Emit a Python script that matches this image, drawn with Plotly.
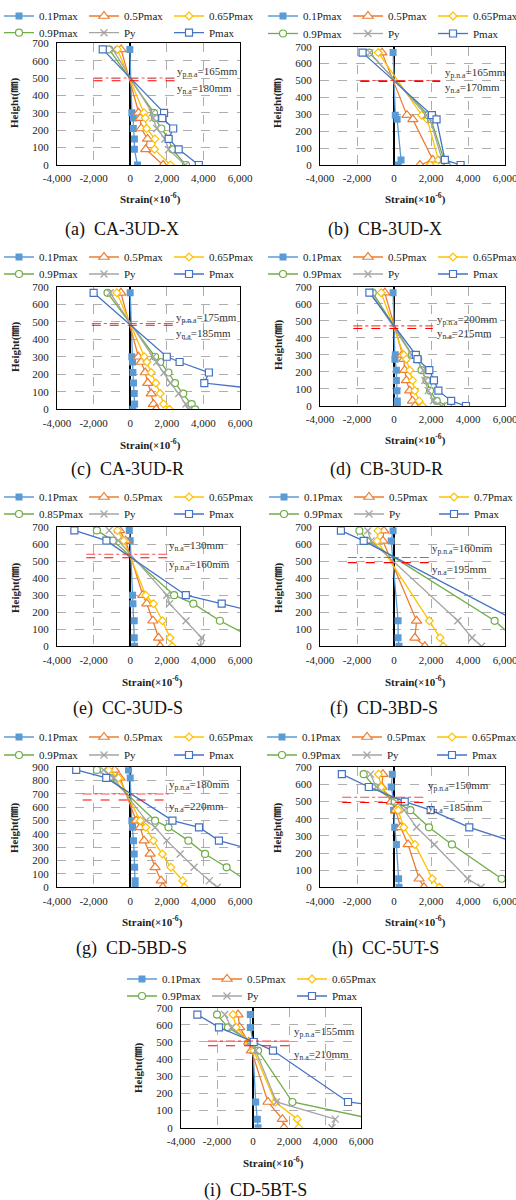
import plotly.graph_objects as go

W, H = 516, 1200
SERIF = "Liberation Serif, Noto Sans CJK SC, serif"

# ---------------- data ----------------
names_std = ["0.1Pmax", "0.5Pmax", "0.65Pmax", "0.9Pmax", "Py", "Pmax"]
names_e = ["0.1Pmax", "0.5Pmax", "0.65Pmax", "0.85Pmax", "Py", "Pmax"]
names_f = ["0.1Pmax", "0.5Pmax", "0.7Pmax", "0.9Pmax", "Py", "Pmax"]

x_tick_vals = [-4000, -2000, 0, 2000, 4000, 6000]
x_tick_text = ["-4,000", "-2,000", "0", "2,000", "4,000", "6,000"]

# (a) CA-3UD-X
a_height = [665, 300, 270, 210, 150, 90, 0]
a_p01 = [-20, 90, 170, 170, 230, 230, 400]
a_p05 = [-500, 450, 550, 600, 950, 850, 1800]
a_p065 = [-700, 750, 820, 900, 1350, 1330, 2200]
a_p09 = [-1150, 1300, 1350, 1700, 2100, 2300, 3050]
a_py = [-950, 1200, 1250, 1450, 1900, 2100, 3000]
a_pmax = [-1500, 1850, 1750, 2350, 2100, 2650, 3750]
a_na = [500, 485]
a_na_x = [-2000, 2450]
a_labels = ["y<sub>p.n.a</sub>=165mm", "y<sub>n.a</sub>=180mm"]

# (b) CB-3UD-X
b_height = [665, 295, 270, 30, 0]
b_p01 = [-50, 70, 170, 380, 230]
b_p05 = [-650, 700, 1020, 2100, 1400]
b_p065 = [-850, 1500, 1800, 2400, 1950]
b_p09 = [-1350, 1850, 2000, 2700, 2850]
b_py = [-1300, 1750, 1950, 2600, 2700]
b_pmax = [-1700, 2050, 2300, 2750, 3600]
b_na = [500, 495]
b_na_x = [-1820, 2500]
b_labels = ["y<sub>p.n.a</sub>=165mm", "y<sub>n.a</sub>=170mm"]

# (c) CA-3UD-R
c_height = [665, 300, 270, 210, 150, 90, 30, 0]
c_p01 = [0, 90, 130, 150, 180, 220, 240, 150]
c_p05 = [-510, 450, 600, 820, 960, 1150, 1270, 1420]
c_p065 = [-730, 760, 910, 1150, 1400, 1640, 1820, 2150]
c_p09 = [-1240, 1360, 1640, 2090, 2450, 2900, 3360, 3550]
c_py = [-1100, 1250, 1450, 1850, 2200, 2650, 3050, 3200]
c_pmax = [-2000, 2000, 2700, 4300, 4050, 9200, None, None]
c_na = [490, 480]
c_na_x = [-2100, 2400]
c_labels = ["y<sub>p.n.a</sub>=175mm", "y<sub>n.a</sub>=185mm"]

# (d) CB-3UD-R
d_height = [665, 300, 275, 210, 150, 90, 30, 0]
d_p01 = [-50, 70, 50, 130, 130, 160, 180, 180]
d_p05 = [-500, 440, 530, 580, 670, 850, 1000, 1130]
d_p065 = [-690, 530, 670, 850, 1000, 1130, 1360, 1550]
d_p09 = [-1150, 980, 1310, 1490, 1760, 1950, 2310, 2910]
d_py = [-1240, 950, 1220, 1580, 1670, 1850, 2130, 2580]
d_pmax = [-1330, 1180, 1270, 1910, 2160, 2400, 3090, 3890]
d_na = [470, 455]
d_na_x = [-2200, 2100]
d_labels = ["y<sub>p.n.a</sub>=200mm", "y<sub>n.a</sub>=215mm"]

# (e) CC-3UD-S
e_height = [680, 620, 300, 250, 150, 50, 0]
e_p01 = [-50, 0, 130, 150, 220, 220, 240]
e_p05 = [-580, -250, 690, 910, 1240, 1550, 1640]
e_p065 = [-700, -360, 850, 1270, 1760, 2180, 2300]
e_p085 = [-1820, -950, 2400, 3450, 4900, 6700, None]
e_py = [-1150, -650, 2000, 2150, 3050, 3900, 3820]
e_pmax = [-3050, -1300, 3040, 5000, 8900, None, None]
e_na = [540, 520]
e_na_x = [-2400, 2100]
e_labels = ["y<sub>n.a</sub>=130mm", "y<sub>p.n.a</sub>=160mm"]

# (f) CD-3BD-S
f_height = [680, 620, 150, 50, 0]
f_p01 = [-50, -150, 220, 220, 270]
f_p05 = [-550, -600, 1220, 1130, 1670]
f_p07 = [-870, -910, 1910, 2490, 2670]
f_p09 = [-1870, -1420, 5440, 6500, None]
f_py = [-1420, -1240, 3450, 4220, 4730]
f_pmax = [-2870, -1640, 6600, None, None]
f_na = [522, 492]
f_na_x = [-2500, 1970]
f_labels = ["y<sub>p.n.a</sub>=160mm", "y<sub>n.a</sub>=195mm"]

# (g) CD-5BD-S
g_height = [880, 820, 500, 450, 350, 250, 150, 50, 0]
g_p01 = [-90, 0, 90, 130, 180, 220, 240, 270, 270]
g_p05 = [-850, -550, 330, 550, 760, 1090, 1360, 1690, 1780]
g_p065 = [-1180, -640, 550, 850, 1270, 1760, 2220, 2870, 2960]
g_p09 = [-1820, -1090, 1360, 2090, 3180, 4090, 5270, 6350, None]
g_py = [-1450, -910, 870, 1360, 2000, 2730, 3490, 4330, 4760]
g_pmax = [-2950, -1310, 2310, 3760, 4850, 7500, None, None, None]
g_na = [700, 655]
g_na_x = [-2600, 2100]
g_labels = ["y<sub>p.n.a</sub>=180mm", "y<sub>n.a</sub>=220mm"]

# (h) CC-5UT-S
h_height = [660, 585, 500, 450, 350, 250, 50, 0]
h_p01 = [-90, -150, 0, -20, 40, 130, 250, 270]
h_p05 = [-600, -650, -150, 90, 360, 760, 1360, 1620]
h_p065 = [-840, -690, 40, 220, 530, 1130, 2070, 2450]
h_p09 = [-1640, -1050, 40, 890, 1890, 3130, 5820, None]
h_py = [-1270, -960, 130, 550, 1220, 2180, 3980, 4710]
h_pmax = [-2820, -1360, 580, 1980, 4070, 6900, None, None]
h_na = [525, 495]
h_na_x = [-2800, 1650]
h_labels = ["y<sub>p.n.a</sub>=150mm", "y<sub>n.a</sub>=185mm"]

# (i) CD-5BT-S
i_height = [660, 585, 500, 450, 150, 50, 0]
i_p01 = [-150, -150, 0, 0, 150, 240, 280]
i_p05 = [-830, -740, -240, -90, 830, 1630, 1720]
i_p065 = [-1110, -930, -190, 40, 1240, 2460, 2540]
i_p09 = [-2000, -1390, -90, 280, 2190, 6700, None]
i_py = [-1570, -1200, -150, 150, 1300, 4570, 4390]
i_pmax = [-3090, -1890, 40, 1110, 5280, 13000, None]
i_na = [505, 478]
i_na_x = [-2500, 2100]
i_labels = ["y<sub>p.n.a</sub>=155mm", "y<sub>n.a</sub>=210mm"]

captions = ["(a)\u00a0\u00a0CA-3UD-X", "(b)\u00a0\u00a0CB-3UD-X", "(c)\u00a0\u00a0CA-3UD-R",
            "(d)\u00a0\u00a0CB-3UD-R", "(e)\u00a0\u00a0CC-3UD-S", "(f)\u00a0\u00a0CD-3BD-S",
            "(g)\u00a0\u00a0CD-5BD-S", "(h)\u00a0\u00a0CC-5UT-S", "(i)\u00a0\u00a0CD-5BT-S"]

panel_data = [
    (a_height, [a_p01, a_p05, a_p065, a_p09, a_py, a_pmax], names_std, a_na, a_na_x, a_labels, 700),
    (b_height, [b_p01, b_p05, b_p065, b_p09, b_py, b_pmax], names_std, b_na, b_na_x, b_labels, 700),
    (c_height, [c_p01, c_p05, c_p065, c_p09, c_py, c_pmax], names_std, c_na, c_na_x, c_labels, 700),
    (d_height, [d_p01, d_p05, d_p065, d_p09, d_py, d_pmax], names_std, d_na, d_na_x, d_labels, 700),
    (e_height, [e_p01, e_p05, e_p065, e_p085, e_py, e_pmax], names_e, e_na, e_na_x, e_labels, 700),
    (f_height, [f_p01, f_p05, f_p07, f_p09, f_py, f_pmax], names_f, f_na, f_na_x, f_labels, 700),
    (g_height, [g_p01, g_p05, g_p065, g_p09, g_py, g_pmax], names_std, g_na, g_na_x, g_labels, 900),
    (h_height, [h_p01, h_p05, h_p065, h_p09, h_py, h_pmax], names_std, h_na, h_na_x, h_labels, 700),
    (i_height, [i_p01, i_p05, i_p065, i_p09, i_py, i_pmax], names_std, i_na, i_na_x, i_labels, 700),
]

# ---------------- geometry (pixels) & styles ----------------
# lt = x where the first legend label text starts; column pitch 85 px
geom = [
    dict(x0=57, x1=240, yt=43.3, yb=165, lt=39, rows=(14, 30.7), ann=(175, 72, 89), xt=(150, 199), ytl=(15, 103), cap=(122, 230)),
    dict(x0=320, x1=505, yt=46.7, yb=165, lt=303, rows=(14, 31.5), ann=(443, 73, 88), xt=(415, 199), ytl=(278, 103), cap=(385, 230)),
    dict(x0=57, x1=240, yt=286.7, yb=409.3, lt=39, rows=(255, 272), ann=(174, 318, 334), xt=(150, 444), ytl=(15, 347), cap=(127, 470)),
    dict(x0=320, x1=505, yt=286.7, yb=406, lt=303, rows=(255, 272), ann=(435, 320, 334), xt=(415, 439), ytl=(278, 345), cap=(386, 470)),
    dict(x0=57, x1=240, yt=527, yb=646.3, lt=39, rows=(495, 512), ann=(167, 546, 565), xt=(152, 681), ytl=(15, 588), cap=(128, 708)),
    dict(x0=320, x1=505, yt=527.3, yb=646.3, lt=304, rows=(495, 512), ann=(430, 549, 570), xt=(415, 681), ytl=(278, 588), cap=(384, 708)),
    dict(x0=57, x1=240, yt=767.3, yb=887.3, lt=39, rows=(735, 753), ann=(167, 785, 807), xt=(152, 921), ytl=(15, 828), cap=(131, 948)),
    dict(x0=320, x1=505, yt=767.3, yb=887.3, lt=302, rows=(735, 753), ann=(426, 786, 808), xt=(415, 921), ytl=(278, 828), cap=(385, 948)),
    dict(x0=181, x1=361, yt=1007.7, yb=1127.7, lt=162, rows=(977, 994), ann=(292, 1032, 1055), xt=(273, 1162), ytl=(138, 1068), cap=(255, 1190)),
]
LEG_W = 40  # legend entry text width -> 85 px pitch

colors = ["#5B9BD5", "#ED7D31", "#FFC000", "#70AD47", "#A5A5A5", "#4472C4"]
symbols = ["square", "triangle-up", "diamond", "circle", "x-thin", "square"]
msizes = [7, 9, 6, 7, 7, 7]

fig = go.Figure()
layout = dict(
    width=W, height=H, template="none",
    margin=dict(l=0, r=0, t=0, b=0, autoexpand=False),
    paper_bgcolor="white", plot_bgcolor="white",
    font=dict(family=SERIF, color="#000", size=11),
)
annotations = []


def px_x(p):
    return p / W


def px_y(p):
    return 1 - p / H


for k, ((hts, series, names, na, na_x, labels, ymax), g) in enumerate(zip(panel_data, geom)):
    n = k + 1
    xa = "x" if n == 1 else f"x{n}"
    ya = "y" if n == 1 else f"y{n}"
    xkey = "xaxis" if n == 1 else f"xaxis{n}"
    ykey = "yaxis" if n == 1 else f"yaxis{n}"
    leg_a = "legend" if k == 0 else f"legend{2 * k + 1}"
    leg_b = f"legend{2 * k + 2}"

    for j, (vals, name) in enumerate(zip(series, names)):
        row = 0 if j < 3 else 1
        if symbols[j] == "x-thin":
            marker = dict(symbol="x-thin", size=msizes[j], line=dict(color=colors[j], width=1.3))
        elif j == 0:
            marker = dict(symbol=symbols[j], size=msizes[j], color=colors[j], line=dict(width=0))
        else:
            marker = dict(symbol=symbols[j], size=msizes[j], color="white",
                          line=dict(color=colors[j], width=1.2))
        fig.add_trace(go.Scatter(
            x=vals, y=hts, name=name, mode="lines+markers",
            line=dict(color=colors[j], width=1.3), marker=marker,
            xaxis=xa, yaxis=ya, legend=leg_a if row == 0 else leg_b,
            legendwidth=LEG_W, connectgaps=False,
        ))

    # neutral-axis reference lines
    for m, hv in enumerate(na):
        fig.add_trace(go.Scatter(
            x=na_x, y=[hv, hv], mode="lines", showlegend=False, hoverinfo="skip",
            line=dict(color="#FF0000" if m == 1 else "rgba(255,40,40,0.85)", width=1.1,
                      dash="dash" if m == 1 else "dashdot"),
            xaxis=xa, yaxis=ya,
        ))

    layout[xkey] = dict(
        domain=[px_x(g["x0"]), px_x(g["x1"])], range=[-4000, 6000], anchor=ya,
        tickvals=x_tick_vals, ticktext=x_tick_text, showgrid=True, gridcolor="#9a9a9a",
        griddash="dash", gridwidth=0.8, zeroline=True, zerolinecolor="#000", zerolinewidth=1.5,
        showline=True, linecolor="#000", linewidth=1, mirror=True, ticks="",
        tickfont=dict(family=SERIF, size=11, color="#222"), automargin=False,
        ticklabelstandoff=3, ticklabeloverflow="allow", fixedrange=True,
    )
    layout[ykey] = dict(
        domain=[px_y(g["yb"]), px_y(g["yt"])], range=[0, ymax], anchor=xa, dtick=100,
        showgrid=True, gridcolor="#9a9a9a", griddash="dash", gridwidth=0.8, zeroline=False,
        showline=True, linecolor="#000", linewidth=1, mirror=True, ticks="",
        tickfont=dict(family=SERIF, size=11, color="#222"), automargin=False,
        ticklabelstandoff=5, ticklabeloverflow="allow", fixedrange=True,
    )
    for r, lname in enumerate((leg_a, leg_b)):
        layout[lname] = dict(
            x=px_x(g["lt"] - 40), y=px_y(g["rows"][r] - 12.5), xanchor="left", yanchor="top",
            orientation="h", bgcolor="rgba(0,0,0,0)", borderwidth=0, itemwidth=30,
            font=dict(family=SERIF, size=11, color="#222"), tracegroupgap=0, traceorder="normal",
        )

    ax, ay1, ay2 = g["ann"]
    for lab, yy in zip(labels, (ay1, ay2)):
        annotations.append(dict(
            text=lab, x=px_x(ax), y=px_y(yy), xref="paper", yref="paper",
            xanchor="left", yanchor="middle", showarrow=False,
            font=dict(family=SERIF, size=11, color="#333"),
        ))
    annotations.append(dict(
        text="<b>Strain(×10<sup>-6</sup>)</b>", x=px_x(g["xt"][0]), y=px_y(g["xt"][1]),
        xref="paper", yref="paper", xanchor="center", yanchor="middle", showarrow=False,
        font=dict(family=SERIF, size=11, color="#222"),
    ))
    annotations.append(dict(
        text="<b>Height(㎜)</b>", x=px_x(g["ytl"][0]), y=px_y(g["ytl"][1]),
        xref="paper", yref="paper", xanchor="center", yanchor="middle", showarrow=False,
        textangle=-90, font=dict(family=SERIF, size=11, color="#222"),
    ))
    annotations.append(dict(
        text=captions[k], x=px_x(g["cap"][0]), y=px_y(g["cap"][1]),
        xref="paper", yref="paper", xanchor="center", yanchor="middle", showarrow=False,
        font=dict(family=SERIF, size=18, color="#111"),
    ))

layout["annotations"] = annotations
fig.update_layout(**layout)
fig.write_html(
    "out.html",
    config={"displayModeBar": False, "staticPlot": True},
    post_script="document.body.style.margin='0';document.body.style.padding='0';",
)
